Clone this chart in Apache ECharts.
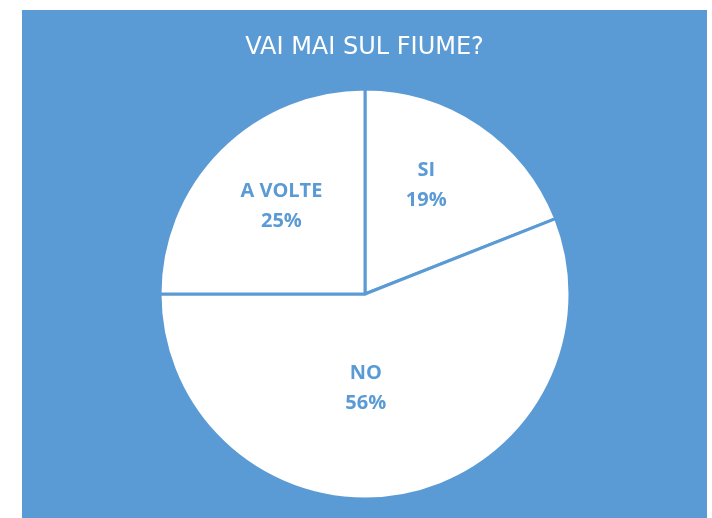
<!DOCTYPE html>
<html>
<head>
<meta charset="utf-8">
<script src="https://cdn.jsdelivr.net/npm/echarts@6/dist/echarts.min.js"></script>
<style>
  html, body { margin: 0; padding: 0; background: #ffffff; width: 712px; height: 518px; overflow: hidden; }
  #chart { position: absolute; left: 22px; top: 10px; width: 685px; height: 508px; }
</style>
</head>
<body>
<div id="chart"></div>
<script>
// Survey answers: "Vai mai sul fiume?"
const titleText = 'VAI MAI SUL FIUME?';
const categories = ['SI', 'NO', 'A VOLTE'];
const percentages = [19, 56, 25];
// Small nudges for the inside labels of each slice (dx, dy)
const labelNudges = [[2, -21], [-19, -9], [-9, -13]];

const BLUE = '#5B9BD5';

const chart = echarts.init(document.getElementById('chart'), null, { renderer: 'canvas' });

chart.setOption({
  backgroundColor: BLUE,
  animation: false,
  title: {
    text: titleText,
    left: 'center',
    top: 21,
    textStyle: {
      color: '#ffffff',
      fontFamily: 'DejaVu Sans',
      fontWeight: 'normal',
      fontSize: 24
    }
  },
  series: [{
    type: 'pie',
    center: [343, 284],
    radius: 205,
    startAngle: 90,
    clockwise: true,
    avoidLabelOverlap: false,
    itemStyle: {
      color: '#ffffff',
      borderColor: BLUE,
      borderWidth: 3
    },
    label: {
      show: true,
      position: 'inside',
      formatter: p => p.name + '\n' + p.value + '%',
      color: BLUE,
      fontFamily: 'Open Sans',
      fontWeight: 'bold',
      fontSize: 20,
      lineHeight: 30
    },
    labelLine: { show: false },
    labelLayout: params => {
      const n = labelNudges[params.dataIndex];
      return { dx: n[0], dy: n[1] };
    },
    emphasis: { disabled: true },
    data: categories.map((c, i) => ({ name: c, value: percentages[i] }))
  }]
});
</script>
</body>
</html>
